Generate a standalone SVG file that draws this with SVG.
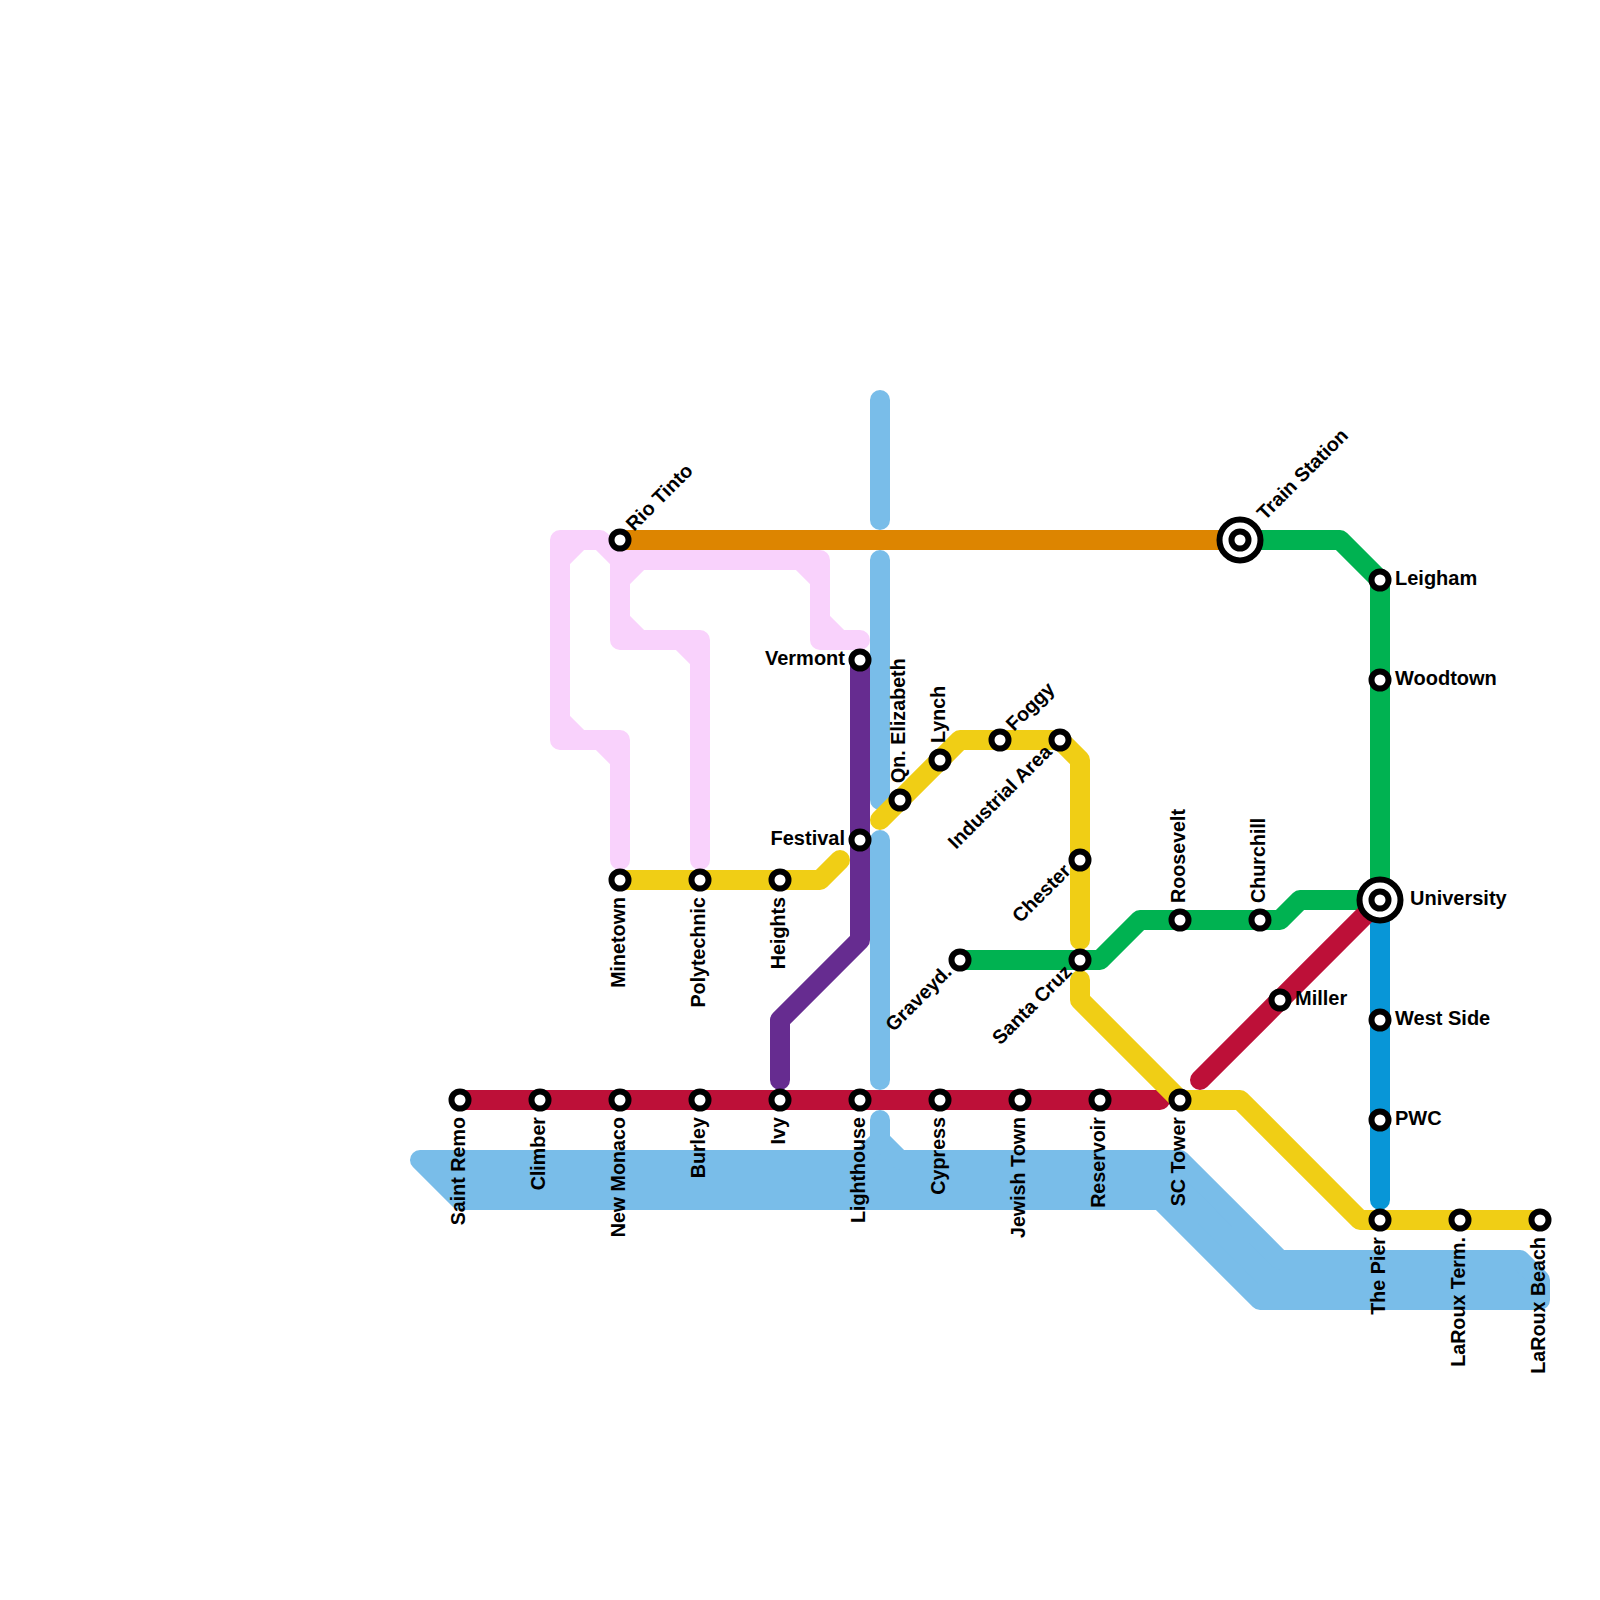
<svg xmlns="http://www.w3.org/2000/svg" width="1600" height="1600" viewBox="0 0 1600 1600">
<style>
.l{fill:none;stroke-width:20;stroke-linecap:round;stroke-linejoin:round}
.sky{stroke:#79bde9}.pink{stroke:#f9d2fc}.orange{stroke:#dd8500}.green{stroke:#00b251}.purple{stroke:#662c90}.blue{stroke:#0896d7}.red{stroke:#bd1038}.yellow{stroke:#f0ce15}
.s{fill:#fff;stroke:#000;stroke-width:6}
text{font-family:"Liberation Sans",Arial,sans-serif;font-weight:700;font-size:20px;fill:#000}
text[transform]{font-size:19.7px}
.e{text-anchor:end}
</style>
<rect width="1600" height="1600" fill="#fff"/>
<g id="connectors">
<path class="l sky" d="M880,400V520M880,560V800M880,840V1080"/>
<path class="l sky" style="fill:#79bde9" d="M880,1120V1140L900,1160H1180L1280,1260H1520L1540,1280V1300H1260L1160,1200H460L420,1160H860L880,1140Z"/>
<path class="l pink" d="M620,860V760L600,740H560V540H600L620,560V640H700V860M600,740H620V760M560,720L580,740M560,560L580,540M600,540L620,560H820V640H860M800,560L820,580M820,620L840,640M620,580L640,560M620,620L640,640M680,640L700,660"/>
<path class="l orange" d="M620,540H1240"/>
<path class="l green" d="M1240,540H1340L1380,580V900"/>
<path class="l green" d="M960,960H1100L1140,920H1280L1300,900H1380"/>
<path class="l purple" d="M860,660V940L780,1020V1080"/>
<path class="l blue" d="M1380,900V1200"/>
<path class="l red" d="M460,1100H1160M1200,1080L1380,900"/>
<path class="l yellow" d="M620,880H820L840,860M880,820L960,740H1060L1080,760V940M1080,980V1000L1180,1100H1240L1360,1220H1540"/>
</g>
<g id="n-rio-tinto"><circle class="s" cx="620" cy="540" r="8.5"/><text transform="translate(634,532) rotate(-45)">Rio Tinto</text></g>
<g id="n-train-station"><circle class="s" cx="1240" cy="540" r="20.5"/><circle class="s" cx="1240" cy="540" r="8.5"/><text transform="translate(1265,521) rotate(-45)">Train Station</text></g>
<g id="n-leigham"><circle class="s" cx="1380" cy="580" r="8.5"/><text x="1395" y="585">Leigham</text></g>
<g id="n-woodtown"><circle class="s" cx="1380" cy="680" r="8.5"/><text x="1395" y="685">Woodtown</text></g>
<g id="n-university"><circle class="s" cx="1380" cy="900" r="20.5"/><circle class="s" cx="1380" cy="900" r="8.5"/><text x="1410" y="905">University</text></g>
<g id="n-west-side"><circle class="s" cx="1380" cy="1020" r="8.5"/><text x="1395" y="1025">West Side</text></g>
<g id="n-pwc"><circle class="s" cx="1380" cy="1120" r="8.5"/><text x="1395" y="1125">PWC</text></g>
<g id="n-miller"><circle class="s" cx="1280" cy="1000" r="8.5"/><text x="1295" y="1005">Miller</text></g>
<g id="n-vermont"><circle class="s" cx="860" cy="660" r="8.5"/><text class="e" x="845" y="665">Vermont</text></g>
<g id="n-festival"><circle class="s" cx="860" cy="840" r="8.5"/><text class="e" x="845" y="845">Festival</text></g>
<g id="n-qn-elizabeth"><circle class="s" cx="900" cy="800" r="8.5"/><text transform="translate(905,783) rotate(-90)">Qn. Elizabeth</text></g>
<g id="n-lynch"><circle class="s" cx="940" cy="760" r="8.5"/><text transform="translate(945,743) rotate(-90)">Lynch</text></g>
<g id="n-foggy"><circle class="s" cx="1000" cy="740" r="8.5"/><text transform="translate(1014,732) rotate(-45)">Foggy</text></g>
<g id="n-industrial-area"><circle class="s" cx="1060" cy="740" r="8.5"/><text class="e" transform="translate(1053,753) rotate(-45)">Industrial Area</text></g>
<g id="n-chester"><circle class="s" cx="1080" cy="860" r="8.5"/><text class="e" transform="translate(1072,872) rotate(-45)">Chester</text></g>
<g id="n-santa-cruz"><circle class="s" cx="1080" cy="960" r="8.5"/><text class="e" transform="translate(1073,973) rotate(-45)">Santa Cruz</text></g>
<g id="n-graveyd"><circle class="s" cx="960" cy="960" r="8.5"/><text class="e" transform="translate(953,973) rotate(-45)">Graveyd.</text></g>
<g id="n-roosevelt"><circle class="s" cx="1180" cy="920" r="8.5"/><text transform="translate(1185,903) rotate(-90)">Roosevelt</text></g>
<g id="n-churchill"><circle class="s" cx="1260" cy="920" r="8.5"/><text transform="translate(1265,903) rotate(-90)">Churchill</text></g>
<g id="n-minetown"><circle class="s" cx="620" cy="880" r="8.5"/><text class="e" transform="translate(625,897) rotate(-90)">Minetown</text></g>
<g id="n-polytechnic"><circle class="s" cx="700" cy="880" r="8.5"/><text class="e" transform="translate(705,897) rotate(-90)">Polytechnic</text></g>
<g id="n-heights"><circle class="s" cx="780" cy="880" r="8.5"/><text class="e" transform="translate(785,897) rotate(-90)">Heights</text></g>
<g id="n-saint-remo"><circle class="s" cx="460" cy="1100" r="8.5"/><text class="e" transform="translate(465,1117) rotate(-90)">Saint Remo</text></g>
<g id="n-climber"><circle class="s" cx="540" cy="1100" r="8.5"/><text class="e" transform="translate(545,1117) rotate(-90)">Climber</text></g>
<g id="n-new-monaco"><circle class="s" cx="620" cy="1100" r="8.5"/><text class="e" transform="translate(625,1117) rotate(-90)">New Monaco</text></g>
<g id="n-burley"><circle class="s" cx="700" cy="1100" r="8.5"/><text class="e" transform="translate(705,1117) rotate(-90)">Burley</text></g>
<g id="n-ivy"><circle class="s" cx="780" cy="1100" r="8.5"/><text class="e" transform="translate(785,1117) rotate(-90)">Ivy</text></g>
<g id="n-lighthouse"><circle class="s" cx="860" cy="1100" r="8.5"/><text class="e" transform="translate(865,1117) rotate(-90)">Lighthouse</text></g>
<g id="n-cypress"><circle class="s" cx="940" cy="1100" r="8.5"/><text class="e" transform="translate(945,1117) rotate(-90)">Cypress</text></g>
<g id="n-jewish-town"><circle class="s" cx="1020" cy="1100" r="8.5"/><text class="e" transform="translate(1025,1117) rotate(-90)">Jewish Town</text></g>
<g id="n-reservoir"><circle class="s" cx="1100" cy="1100" r="8.5"/><text class="e" transform="translate(1105,1117) rotate(-90)">Reservoir</text></g>
<g id="n-sc-tower"><circle class="s" cx="1180" cy="1100" r="8.5"/><text class="e" transform="translate(1185,1117) rotate(-90)">SC Tower</text></g>
<g id="n-the-pier"><circle class="s" cx="1380" cy="1220" r="8.5"/><text class="e" transform="translate(1385,1237) rotate(-90)">The Pier</text></g>
<g id="n-laroux-term"><circle class="s" cx="1460" cy="1220" r="8.5"/><text class="e" transform="translate(1465,1237) rotate(-90)">LaRoux Term.</text></g>
<g id="n-laroux-beach"><circle class="s" cx="1540" cy="1220" r="8.5"/><text class="e" transform="translate(1545,1237) rotate(-90)">LaRoux Beach</text></g>
</svg>
